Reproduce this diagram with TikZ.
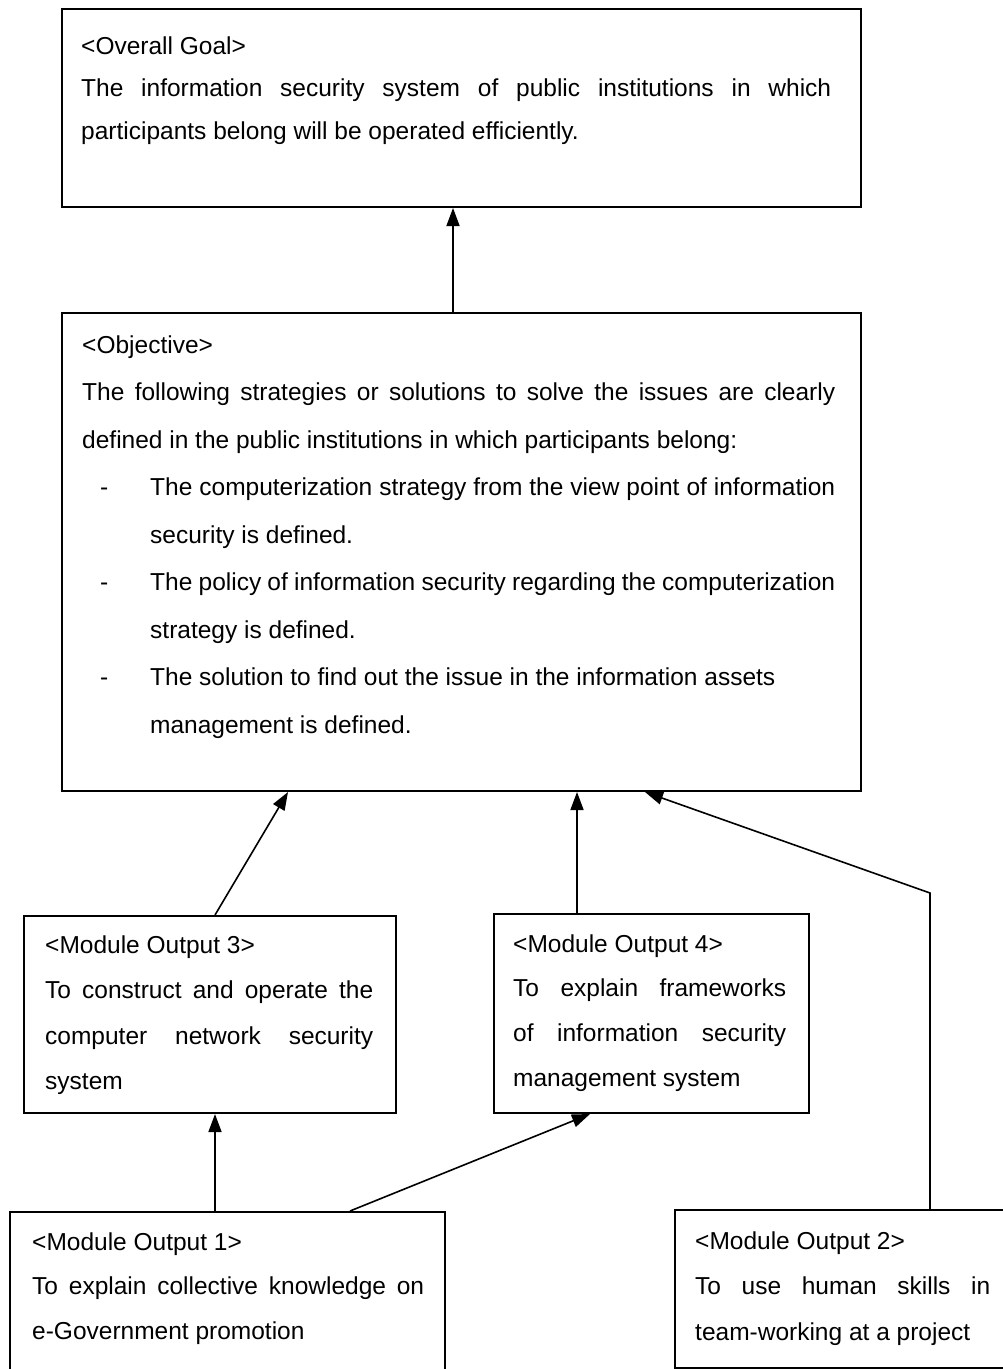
\documentclass[tikz,border=0pt]{standalone}
\usepackage{fontspec}
\setmainfont{Liberation Sans}
\usetikzlibrary{arrows.meta}
\hyphenpenalty=10000
\exhyphenpenalty=10000
\tolerance=10000
\hbadness=10000
\newcommand\dgfont[1]{\fontsize{24.5pt}{#1}\selectfont}
\newcommand\dgstrut{\rule{0pt}{19pt}}
\newcommand\dgdash{\noindent\llap{-\hspace{42pt}}}
\tikzset{
  box/.style={draw, line width=2pt, inner sep=0pt, anchor=north west},
  txt/.style={anchor=north west, inner sep=0pt, align=justify},
  arr/.style={line width=1.6pt, -{Triangle[length=18pt,width=13pt]}},
  con/.style={line width=1.6pt}
}
\begin{document}
\begin{tikzpicture}[x=1pt,y=-1pt]
\useasboundingbox (0,0) rectangle (1003,1369);
\clip (0,0) rectangle (1003,1369);
% boxes
\node[box, minimum width=799pt, minimum height=198pt] (goal) at (61,8) {};
\node[box, minimum width=799pt, minimum height=478pt] (obj) at (61,312) {};
\node[box, minimum width=372pt, minimum height=197pt] (mo3) at (23,915) {};
\node[box, minimum width=315pt, minimum height=199pt] (mo4) at (493,913) {};
\node[box, minimum width=435pt, minimum height=164pt] (mo1) at (9,1211) {};
\node[box, minimum width=341pt, minimum height=158pt] (mo2) at (674,1209) {};
% texts
\node[txt, text width=750pt, font=\dgfont{42.5pt}] (goalt) at (81,35)
  {\dgstrut<Overall Goal>\\
   The information security system of public institutions in which\linebreak
   participants belong will be operated efficiently.};
\node[txt, text width=753pt, font=\dgfont{47.5pt}] (objt) at (82,334)
  {\dgstrut<Objective>\\
   The following strategies or solutions to solve the issues are clearly\linebreak
   defined in the public institutions in which participants belong:\par
   {\leftskip=68pt
   \dgdash The computerization strategy from the view point of information\linebreak
   security is defined.\par
   \dgdash The policy of information security regarding the computerization\linebreak
   strategy is defined.\par
   \dgdash The solution to find out the issue in the information assets\\
   management is defined.\par}};
\node[txt, text width=328pt, font=\dgfont{45.5pt}] (mo3t) at (45,934)
  {\dgstrut<Module Output 3>\\
   To construct and operate the\linebreak
   computer network security\linebreak
   system};
\node[txt, text width=273pt, font=\dgfont{44.7pt}] (mo4t) at (513,933)
  {\dgstrut<Module Output 4>\\
   To explain frameworks\linebreak
   of information security\linebreak
   management system};
\node[txt, text width=392pt, font=\dgfont{44.5pt}] (mo1t) at (32,1231)
  {\dgstrut<Module Output 1>\\
   To explain collective knowledge on\linebreak
   e-Government promotion};
\node[txt, text width=295pt, font=\dgfont{45.5pt}] (mo2t) at (695,1230)
  {\dgstrut<Module Output 2>\\
   To use human skills in\linebreak
   team-working at a project};
% connectors
\draw[arr] ([xshift=392pt]obj.north west) -- ([xshift=392pt]goal.south west);
\draw[arr] ([xshift=192pt]mo3.north west) -- ([xshift=227pt]obj.south west);
\draw[arr] ([xshift=84pt]mo4.north west) -- ([xshift=516pt]obj.south west);
\coordinate (bend) at ([xshift=256pt,yshift=316pt]mo2.north west);
\draw[arr] ([xshift=256pt]mo2.north west) -- (bend) -- ([xshift=584pt]obj.south west);
\draw[arr] ([xshift=206pt]mo1.north west) -- ([xshift=192pt]mo3.south west);
\draw[arr] ([xshift=341pt]mo1.north west) -- ([xshift=97pt]mo4.south west);
\end{tikzpicture}
\end{document}
